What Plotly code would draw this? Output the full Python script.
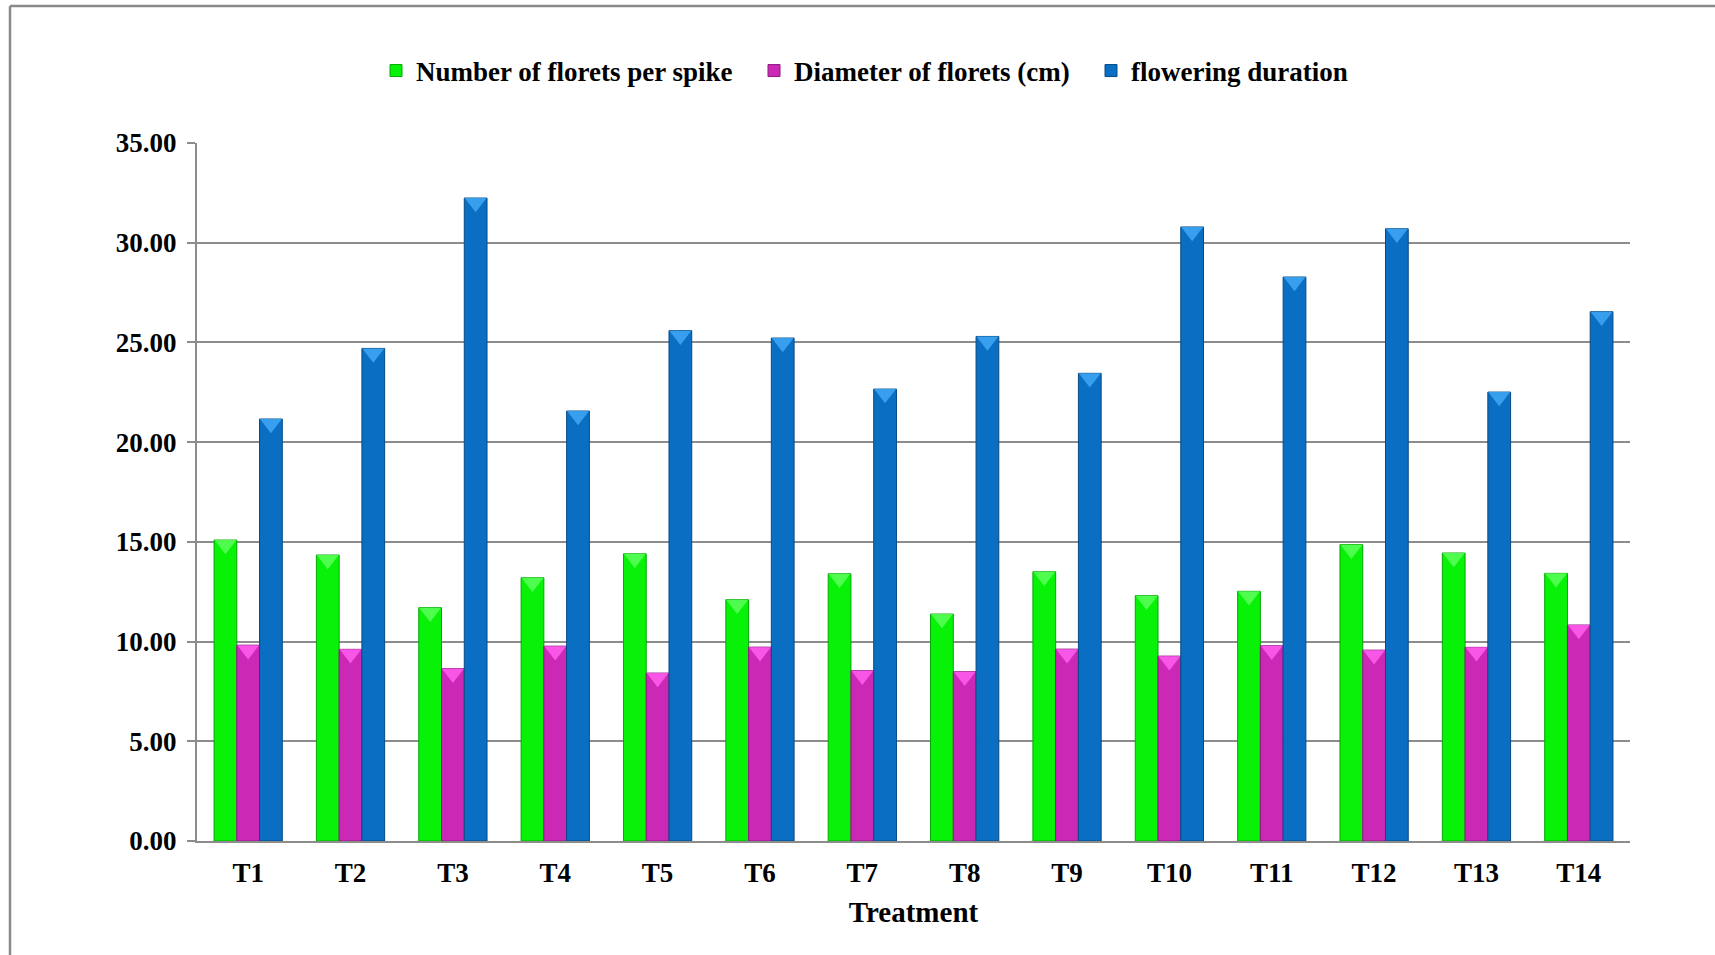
import plotly.graph_objects as go

# Treatments and measured traits
treatments = ["T1", "T2", "T3", "T4", "T5", "T6", "T7",
              "T8", "T9", "T10", "T11", "T12", "T13", "T14"]
florets_per_spike = [15.09, 14.34, 11.70, 13.20, 14.40, 12.10, 13.40,
                     11.38, 13.50, 12.30, 12.52, 14.86, 14.44, 13.42]
floret_diameter = [9.82, 9.61, 8.64, 9.77, 8.42, 9.72, 8.54,
                   8.49, 9.62, 9.27, 9.79, 9.57, 9.71, 10.83]
flowering_duration = [21.16, 24.70, 32.24, 21.56, 25.59, 25.22, 22.66,
                      25.30, 23.45, 30.79, 28.28, 30.70, 22.51, 26.54]
y_ticks = [0, 5, 10, 15, 20, 25, 30, 35]

W, H = 1715, 955
ML, MR, MT, MB = 197, 85, 143, 114
FONT = "Liberation Serif, Times New Roman, serif"
GRID = "#8c8c8c"
Y_MAX = 35

pw = W - ML - MR
ph = H - MT - MB
def px_x(p):
    return (p - ML) / pw
def px_y(p):
    return 1 - (p - MT) / ph

series = [
    # name, values, fill, edge, bevel highlight, legend id, legend x (px)
    ("Number of florets per spike", florets_per_spike,
     "#08f208", "#05a805", "#5cff5c", "legend", 376),
    ("Diameter of florets (cm)", floret_diameter,
     "#cc28b6", "#8e1a7f", "#ff5ef0", "legend2", 754),
    ("flowering duration", flowering_duration,
     "#0a6fc2", "#064a85", "#3fa8f5", "legend3", 1091),
]

# size of the bevel triangle sitting on each bar top
BEVEL = 19
bevel_drop = (BEVEL * 0.25) / ph * Y_MAX

fig = go.Figure()
for i, (name, vals, fill, edge, hi, leg, lx) in enumerate(series):
    fig.add_trace(go.Bar(
        x=treatments, y=vals, name=name, legend=leg,
        offsetgroup=str(i),
        marker=dict(color=fill, line=dict(color=edge, width=1)),
    ))
for i, (name, vals, fill, edge, hi, leg, lx) in enumerate(series):
    fig.add_trace(go.Scatter(
        x=treatments, y=[v - bevel_drop for v in vals],
        mode="markers", showlegend=False, hoverinfo="skip",
        offsetgroup=str(i),
        marker=dict(symbol="triangle-down", size=BEVEL, color=hi,
                    opacity=0.85, line=dict(width=0)),
    ))

# outer chart frame (top and left edges visible)
frame = dict(color="#8a8a8a", width=2.5)
fig.add_shape(type="line", xref="paper", yref="paper",
              x0=px_x(10), x1=px_x(10), y0=px_y(6), y1=px_y(H + 5), line=frame)
fig.add_shape(type="line", xref="paper", yref="paper",
              x0=px_x(10), x1=px_x(W + 5), y0=px_y(6), y1=px_y(6), line=frame)

legend_font = dict(family=FONT, size=27, color="black", weight="bold")
legends = {}
for name, vals, fill, edge, hi, leg, lx in series:
    legends[leg] = dict(
        orientation="h", x=px_x(lx), xanchor="left",
        y=px_y(71), yanchor="middle", font=legend_font, itemwidth=30,
        bgcolor="rgba(0,0,0,0)",
    )

fig.update_layout(
    width=W, height=H,
    margin=dict(l=ML, r=MR, t=MT, b=MB),
    paper_bgcolor="white", plot_bgcolor="white",
    barmode="group", bargap=0.333, bargroupgap=0,
    scattermode="group", scattergap=0.333,
    font=dict(family=FONT, size=27, color="black"),
    showlegend=True,
    **legends,
)

fig.update_xaxes(
    showline=True, linecolor=GRID, linewidth=2,
    ticks="", showgrid=False,
    tickfont=dict(family=FONT, size=27, color="black", weight="bold"),
    ticklabelstandoff=7,
    title=dict(text="Treatment", standoff=14,
               font=dict(family=FONT, size=29, color="black", weight="bold")),
)
fig.update_yaxes(
    range=[0, Y_MAX], tickvals=y_ticks,
    ticktext=[f"{v:.2f}" for v in y_ticks],
    showline=True, linecolor=GRID, linewidth=2,
    ticks="outside", ticklen=8, tickcolor=GRID, tickwidth=2,
    showgrid=True, gridcolor=GRID, gridwidth=2,
    zeroline=False,
    tickfont=dict(family=FONT, size=27, color="black", weight="bold"),
    ticklabelstandoff=5,
)

fig.write_html("out.html")
